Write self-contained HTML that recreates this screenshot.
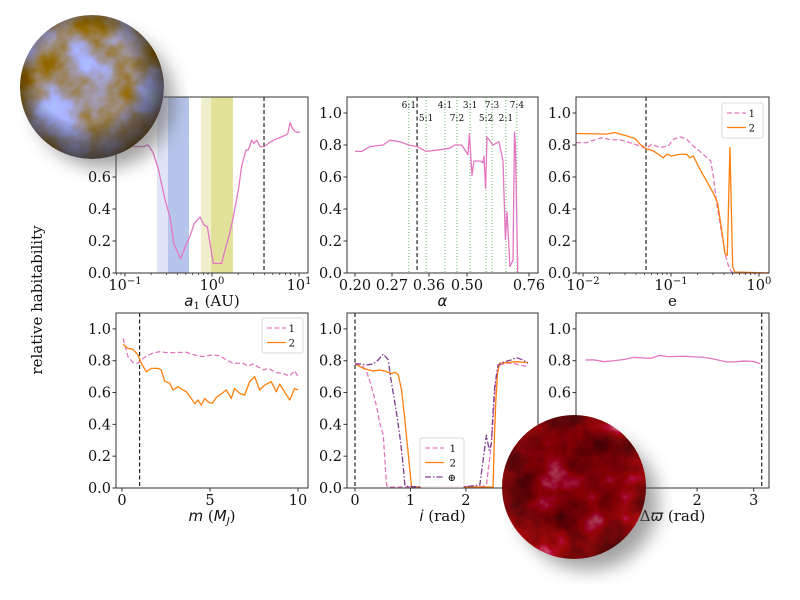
<!DOCTYPE html>
<html><head><meta charset="utf-8"><style>
html,body{margin:0;padding:0;background:#fff;}
svg{display:block;}
text{font-family:"DejaVu Serif","Liberation Serif",serif;fill:#111;}
</style></head><body>
<svg id="chart" width="800" height="600" viewBox="0 0 800 600" xmlns="http://www.w3.org/2000/svg">
<defs>
<filter id="noiseA" x="0" y="0" width="100%" height="100%" color-interpolation-filters="sRGB">
<feTurbulence type="fractalNoise" baseFrequency="0.022" numOctaves="4" seed="7"/>
<feColorMatrix type="matrix" values="-0.2 0 0 0 0.725  -0.72 0 0 0 0.93  -2.52 0 0 0 1.825  0 0 0 0 1"/>
</filter>
<filter id="noiseB" x="0" y="0" width="100%" height="100%" color-interpolation-filters="sRGB">
<feTurbulence type="fractalNoise" baseFrequency="0.03" numOctaves="4" seed="11"/>
<feColorMatrix type="matrix" values="0.92 0 0 0 0.076  2.8 0 0 0 -1.91  2.24 0 0 0 -1.348  0 0 0 0 1"/>
</filter>
<filter id="blur"><feGaussianBlur stdDeviation="9"/></filter>
<clipPath id="clipA"><circle cx="92" cy="87" r="72"/></clipPath>
<clipPath id="clipB"><circle cx="574" cy="487" r="72"/></clipPath>
<radialGradient id="shadeA" cx="0.45" cy="0.42" r="0.6">
<stop offset="0.55" stop-color="#000" stop-opacity="0"/><stop offset="1" stop-color="#2a1e08" stop-opacity="0.8"/></radialGradient>
<radialGradient id="shadeB" cx="0.5" cy="0.45" r="0.6">
<stop offset="0.55" stop-color="#500010" stop-opacity="0.3"/><stop offset="0.9" stop-color="#c04050" stop-opacity="0.1"/><stop offset="1" stop-color="#f0b0b0" stop-opacity="0.6"/></radialGradient>
</defs>
<g id="panels"></g>
<text x="0" y="0" font-size="15" text-anchor="middle" transform="translate(42,300) rotate(-90)">relative habitability</text>
<g id="planets">
<ellipse cx="104" cy="100" rx="70" ry="68" fill="#555" opacity="0.55" filter="url(#blur)"/>
<g clip-path="url(#clipA)">
<rect x="20" y="15" width="144" height="144" filter="url(#noiseA)"/>
<circle cx="92" cy="87" r="72" fill="url(#shadeA)"/>
</g>
<ellipse cx="588" cy="502" rx="70" ry="68" fill="#555" opacity="0.55" filter="url(#blur)"/>
<g clip-path="url(#clipB)">
<rect x="502" y="415" width="144" height="144" filter="url(#noiseB)"/>
<circle cx="574" cy="487" r="72" fill="url(#shadeB)"/>
</g>
</g>
</svg>
<script>
// ---------- data ----------
const p1LogA = [-0.905,-0.790,-0.732,-0.674,-0.617,-0.540,-0.483,-0.437,-0.360,-0.310,-0.253,-0.203,-0.138,-0.092,-0.054,0.015,0.111,0.138,0.199,0.245,0.303,0.341,0.391,0.418,0.456,0.483,0.513,0.552,0.601,0.648,0.705,0.839,0.870,0.897,0.927,0.966,1.011];
const p1Hab = [0.79,0.79,0.80,0.75,0.65,0.46,0.35,0.18,0.09,0.16,0.23,0.31,0.35,0.30,0.29,0.06,0.06,0.12,0.24,0.35,0.52,0.67,0.77,0.77,0.83,0.81,0.83,0.79,0.79,0.81,0.83,0.86,0.87,0.94,0.90,0.88,0.88];
const p1BandsLog = [[-0.632,-0.506],[-0.506,-0.264],[-0.126,-0.011],[-0.011,0.241]];
const p1Ref = 3.96;

const p2Alpha = [0.20,0.213,0.228,0.253,0.266,0.289,0.311,0.331,0.353,0.400,0.437,0.455,0.481,0.504,0.510,0.521,0.529,0.554,0.567,0.571,0.578,0.584,0.609,0.634,0.651,0.661,0.668,0.680,0.693,0.699,0.703,0.713];
const p2Hab = [0.76,0.76,0.79,0.80,0.83,0.82,0.80,0.79,0.76,0.77,0.78,0.80,0.80,0.74,0.87,0.61,0.70,0.70,0.69,0.73,0.53,0.85,0.80,0.82,0.70,0.21,0.38,0.04,0.08,0.88,0.80,0.0];
const p2ResLabels = ["6:1","5:1","4:1","7:2","3:1","5:2","7:3","2:1","7:4"];
const p2ResAlpha = [0.311,0.353,0.419,0.463,0.513,0.580,0.605,0.663,0.709];
const p2ResRow = [0,1,0,1,0,1,0,1,0];
const p2Ticks = [0.20,0.27,0.36,0.50,0.76];
const p2TickLabels = ["0.20","0.27","0.36","0.50","0.76"];
const p2Ref = 0.331;

const p3Log1 = [-2.080,-1.958,-1.844,-1.769,-1.693,-1.580,-1.466,-1.352,-1.284,-1.219,-1.125,-1.030,-0.974,-0.898,-0.822,-0.746,-0.633,-0.549,-0.519,-0.481,-0.424,-0.386,-0.349,-0.311,-0.216,0.114];
const p3Hab1 = [0.815,0.815,0.836,0.847,0.832,0.832,0.815,0.794,0.777,0.805,0.784,0.794,0.836,0.851,0.836,0.794,0.742,0.70,0.605,0.437,0.248,0.122,0.048,0.006,0.0,0.0];
const p3Log2 = [-2.080,-1.731,-1.636,-1.580,-1.504,-1.409,-1.352,-1.284,-1.201,-1.144,-1.087,-1.049,-0.992,-0.898,-0.822,-0.784,-0.746,-0.670,-0.595,-0.519,-0.470,-0.424,-0.386,-0.360,-0.330,-0.299,-0.273,0.114];
const p3Hab2 = [0.872,0.868,0.878,0.868,0.857,0.840,0.805,0.777,0.763,0.742,0.72,0.742,0.731,0.742,0.742,0.72,0.731,0.647,0.574,0.50,0.437,0.269,0.122,0.111,0.784,0.038,0.006,0.0];
const p3Ref = 0.052;

const p4M1 = [0.06,0.34,0.63,0.91,1.10,1.38,1.76,2.14,2.52,2.90,3.66,4.13,4.60,5.08,5.55,5.93,6.31,6.88,7.16,7.44,7.82,8.05,8.30,8.77,9.15,9.53,9.81,10.0];
const p4Hab1 = [0.94,0.826,0.788,0.784,0.805,0.83,0.847,0.857,0.851,0.851,0.853,0.836,0.826,0.836,0.832,0.805,0.784,0.784,0.767,0.780,0.756,0.742,0.752,0.725,0.720,0.704,0.737,0.70];
const p4M2 = [0.06,0.34,0.63,0.91,1.10,1.38,1.67,2.05,2.23,2.42,2.71,2.90,3.18,3.47,3.66,3.94,4.13,4.32,4.51,4.70,4.89,5.13,5.36,5.93,6.21,6.40,6.69,6.97,7.25,7.54,7.82,8.11,8.48,8.77,8.96,9.53,9.81,10.0];
const p4Hab2 = [0.903,0.878,0.872,0.836,0.784,0.731,0.752,0.752,0.742,0.672,0.658,0.616,0.637,0.616,0.605,0.563,0.53,0.553,0.521,0.563,0.542,0.532,0.569,0.616,0.563,0.626,0.595,0.584,0.668,0.70,0.616,0.647,0.668,0.605,0.653,0.553,0.626,0.616];
const p4Ref = 1.0;

const p5I1 = [0,0.15,0.21,0.27,0.33,0.39,0.45,0.51,0.54,0.57,0.60,1.29,1.77,2.25,2.37,2.46,2.49,2.52,2.55,2.61,2.73,2.85,2.97,3.12];
const p5Hab1 = [0.78,0.763,0.731,0.668,0.595,0.51,0.405,0.332,0.174,0.017,0.006,0.006,0.013,0.006,0.017,0.28,0.426,0.595,0.72,0.773,0.784,0.784,0.773,0.763];
const p5I2 = [0,0.15,0.33,0.45,0.57,0.66,0.72,0.78,0.84,0.90,0.96,1.02,2.49,2.51,2.54,2.57,2.61,2.73,2.91,3.12];
const p5Hab2 = [0.78,0.752,0.735,0.742,0.731,0.72,0.727,0.714,0.616,0.426,0.216,0.006,0.006,0.28,0.553,0.72,0.784,0.788,0.794,0.788];
const p5I3 = [0,0.09,0.21,0.33,0.42,0.51,0.60,0.64,0.70,0.76,0.81,0.86,0.90,0.94,1.17,1.71,1.89,2.25,2.31,2.37,2.42,2.46,2.49,2.52,2.58,2.70,2.82,2.91,3.03,3.12];
const p5Hab3 = [0.78,0.78,0.773,0.78,0.805,0.842,0.805,0.70,0.574,0.447,0.321,0.174,0.017,0.011,0.006,0.011,0.006,0.017,0.174,0.332,0.237,0.28,0.49,0.637,0.773,0.794,0.805,0.819,0.805,0.784];
const p5Ref = 0;

const p6W = [0.03,0.18,0.35,0.53,0.71,0.88,1.18,1.34,1.47,1.76,2.12,2.29,2.53,2.71,2.82,3.0,3.12];
const p6Hab = [0.805,0.805,0.794,0.80,0.808,0.821,0.815,0.834,0.826,0.828,0.821,0.811,0.792,0.794,0.798,0.796,0.78];
const p6Ref = 3.1416;

const yTicks = [0.0,0.2,0.4,0.6,0.8,1.0];
const yTickLabels = ["0.0","0.2","0.4","0.6","0.8","1.0"];

// ---------- helpers ----------
const NS = "http://www.w3.org/2000/svg";
const root = document.getElementById('panels');
const PINK = "#e377c2", ORANGE = "#ff7f0e", PURPLE = "#7e3d8f";
function mk(tag, attrs, parent){
  const e = document.createElementNS(NS, tag);
  for (const k in attrs) e.setAttribute(k, attrs[k]);
  (parent||root).appendChild(e);
  return e;
}
function linScale(d0,d1,r0,r1){ return v => r0 + (v-d0)/(d1-d0)*(r1-r0); }
function pieceScale(dom, rng){
  return v => {
    let i = 0;
    while (i < dom.length-2 && v > dom[i+1]) i++;
    return rng[i] + (v-dom[i])/(dom[i+1]-dom[i])*(rng[i+1]-rng[i]);
  };
}
function makePanel(name, x0,x1,y0,y1){
  const g = mk('g',{});
  
  
  const y = linScale(0,1.1,y1,y0);
  return {g,x0,x1,y0,y1,y};
}
function frame(P){
  const r = mk('rect',{x:P.x0,y:P.y0,width:P.x1-P.x0,height:P.y1-P.y0,fill:'none',stroke:'#333','stroke-width':1},P.g);
  
  
}
function yAxis(P){
  const g = mk('g',{},P.g);
  
  
  yTicks.forEach((v,i)=>{
    const yy = P.y(v);
    mk('line',{x1:P.x0-3.5,x2:P.x0,y1:yy,y2:yy,stroke:'#333'},g);
    const t = mk('text',{x:P.x0-5,y:yy+5,'font-size':14.5,'text-anchor':'end'},g);
    
    
    t.textContent = yTickLabels[i];
  });
}
function xTicksLin(P, sx, vals, labels){
  const g = mk('g',{},P.g);
  
  
  vals.forEach((v,i)=>{
    const xx = sx(v);
    mk('line',{x1:xx,x2:xx,y1:P.y1,y2:P.y1+3.5,stroke:'#333'},g);
    const t = mk('text',{x:xx,y:P.y1+17,'font-size':14.5,'text-anchor':'middle'},g);
    
    
    t.textContent = labels[i];
  });
}
function xTicksLog(P, sxLog, lo, hi, decades){
  const g = mk('g',{},P.g);
  
  
  for (let d = Math.floor(lo); d <= Math.ceil(hi); d++){
    for (let m = 2; m <= 9; m++){
      const lv = d + Math.log10(m);
      if (lv < lo || lv > hi) continue;
      const xx = sxLog(lv);
      mk('line',{x1:xx,x2:xx,y1:P.y1,y2:P.y1+2,stroke:'#333','stroke-width':0.8},g);
    }
  }
  decades.forEach(d=>{
    const xx = sxLog(d);
    mk('line',{x1:xx,x2:xx,y1:P.y1,y2:P.y1+3.5,stroke:'#333'},g);
    const t = mk('text',{x:xx,y:P.y1+17,'font-size':14.5,'text-anchor':'middle'},g);
    
    
    t.appendChild(document.createTextNode('10'));
    const s = document.createElementNS(NS,'tspan');
    s.setAttribute('dy','-6'); s.setAttribute('font-size','10');
    s.textContent = d < 0 ? '\u2212' + (-d) : String(d);
    t.appendChild(s);
  });
}
function xLabel(P, parts){
  const t = mk('text',{x:(P.x0+P.x1)/2,y:P.y1+33,'font-size':15,'text-anchor':'middle'},P.g);
  
  
  parts.forEach(p=>{
    const s = document.createElementNS(NS,'tspan');
    if (p.it) { s.setAttribute('font-style','italic'); s.setAttribute('font-family','DejaVu Sans, sans-serif'); }
    if (p.sub) { s.setAttribute('font-size','10'); s.setAttribute('dy','3'); }
    if (p.up) { s.setAttribute('dy','-3'); }
    s.textContent = p.t;
    t.appendChild(s);
  });
}
function series(P, sx, xs, ys, color, dash, name){
  const d = xs.map((v,i)=>(i?'L':'M')+sx(v).toFixed(2)+','+P.y(ys[i]).toFixed(2)).join(' ');
  const p = mk('path',{d, fill:'none', stroke:color, 'stroke-width':1.3, 'stroke-linejoin':'round'},P.g);
  if (dash) p.setAttribute('stroke-dasharray', dash);
  
  
}
function refLine(P, xx){
  const l = mk('line',{x1:xx,x2:xx,y1:P.y0,y2:P.y1,stroke:'#222','stroke-width':1.2,'stroke-dasharray':'4,2.5'},P.g);
  
  
}
function legend(P, bx, by, w, entries){
  const g = mk('g',{},P.g);
  
  
  const h = entries.length*14.5+6;
  mk('rect',{x:bx,y:by,width:w,height:h,rx:2,fill:'#fff',stroke:'#ccc','stroke-width':0.8,opacity:0.9},g);
  entries.forEach((e,i)=>{
    const yy = by+10+i*14.5;
    const gi = mk('g',{},g);
    
    
    const l = mk('line',{x1:bx+5,x2:bx+24,y1:yy,y2:yy,stroke:e.c,'stroke-width':1.3},gi);
    if (e.d) l.setAttribute('stroke-dasharray',e.d);
    const t = mk('text',{x:bx+w-8,y:yy+4,'font-size':10,'text-anchor':'end'},gi);
    t.textContent = e.t;
  });
}

// ---------- Panel 1: a1 ----------
{
  const P = makePanel('panel-semimajor-axis',116,308,97,273);
  const sxLog = linScale(-1.103,1.103,P.x0,P.x1);
  const bandCols = ['#dfe5f6','#b7c5ec','#efefcc','#e1e19a'];
  p1BandsLog.forEach((b,i)=>{
    const r = mk('rect',{x:sxLog(b[0]),y:P.y0,width:sxLog(b[1])-sxLog(b[0]),height:P.y1-P.y0,fill:bandCols[i]},P.g);
    
    
  });
  refLine(P, sxLog(Math.log10(p1Ref)));
  series(P, sxLog, p1LogA, p1Hab, PINK, null, 'habitability-line');
  frame(P); yAxis(P);
  xTicksLog(P, sxLog, -1.103, 1.103, [-1,0,1]);
  xLabel(P,[{t:'a',it:1},{t:'1',sub:1},{t:' (AU)',up:1}]);
}
// ---------- Panel 2: alpha ----------
{
  const P = makePanel('panel-alpha',347,538,97,273);
  const sx = pieceScale(p2Ticks,[355,392,429,467,529]);
  p2ResAlpha.forEach((a,i)=>{
    const xx = sx(a);
    const l = mk('line',{x1:xx,x2:xx,y1:P.y0,y2:P.y1,stroke:'#5fae5f','stroke-width':0.9,'stroke-dasharray':'1,2'},P.g);
    
    
    const t = mk('text',{x:xx,y:P.y0+11+p2ResRow[i]*13,'font-size':9,'text-anchor':'middle'},P.g);
    
    
    t.textContent = p2ResLabels[i];
  });
  refLine(P, sx(p2Ref));
  series(P, sx, p2Alpha, p2Hab, PINK, null, 'habitability-line');
  frame(P); yAxis(P);
  xTicksLin(P, sx, p2Ticks, p2TickLabels);
  xLabel(P,[{t:'\u03b1',it:1}]);
}
// ---------- Panel 3: e ----------
{
  const P = makePanel('panel-eccentricity',576,769,97,273);
  const sxLog = linScale(-2.08,0.114,P.x0,P.x1);
  refLine(P, sxLog(Math.log10(p3Ref)));
  series(P, sxLog, p3Log1, p3Hab1, PINK, '5,2.5', 'series-1-line');
  series(P, sxLog, p3Log2, p3Hab2, ORANGE, null, 'series-2-line');
  frame(P); yAxis(P);
  xTicksLog(P, sxLog, -2.08, 0.114, [-2,-1,0]);
  xLabel(P,[{t:'e'}]);
  legend(P, 722, 103, 41, [{t:'1',c:PINK,d:'5,2.5'},{t:'2',c:ORANGE}]);
}
// ---------- Panel 4: m ----------
{
  const P = makePanel('panel-mass',116,308,313,488);
  const sx = linScale(-0.34,10.57,P.x0,P.x1);
  refLine(P, sx(p4Ref));
  series(P, sx, p4M1, p4Hab1, PINK, '5,2.5', 'series-1-line');
  series(P, sx, p4M2, p4Hab2, ORANGE, null, 'series-2-line');
  frame(P); yAxis(P);
  xTicksLin(P, sx, [0,5,10], ['0','5','10']);
  xLabel(P,[{t:'m',it:1},{t:' ('},{t:'M',it:1},{t:'J',it:1,sub:1},{t:')',up:1}]);
  legend(P, 262, 318, 41, [{t:'1',c:PINK,d:'5,2.5'},{t:'2',c:ORANGE}]);
}
// ---------- Panel 5: inclination ----------
{
  const P = makePanel('panel-inclination',347,538,313,488);
  const sx = linScale(-0.144,3.30,P.x0,P.x1);
  refLine(P, sx(p5Ref));
  series(P, sx, p5I1, p5Hab1, PINK, '5,2.5', 'series-1-line');
  series(P, sx, p5I2, p5Hab2, ORANGE, null, 'series-2-line');
  series(P, sx, p5I3, p5Hab3, PURPLE, '6,2,1.5,2', 'series-earth-line');
  frame(P); yAxis(P);
  xTicksLin(P, sx, [0,1,2,3], ['0','1','2','3']);
  xLabel(P,[{t:'i',it:1},{t:' (rad)'}]);
  legend(P, 420, 438, 44, [{t:'1',c:PINK,d:'5,2.5'},{t:'2',c:ORANGE},{t:'\u2295',c:PURPLE,d:'6,2,1.5,2'}]);
}
// ---------- Panel 6: delta varpi ----------
{
  const P = makePanel('panel-periapsis-difference',576,769,313,488);
  const sx = linScale(-0.14,3.27,P.x0,P.x1);
  refLine(P, sx(p6Ref));
  series(P, sx, p6W, p6Hab, PINK, null, 'habitability-line');
  frame(P); yAxis(P);
  xTicksLin(P, sx, [0,1,2,3], ['0','1','2','3']);
  xLabel(P,[{t:'\u0394'},{t:'\u03d6',it:1},{t:' (rad)'}]);
}
</script>
</body></html>
